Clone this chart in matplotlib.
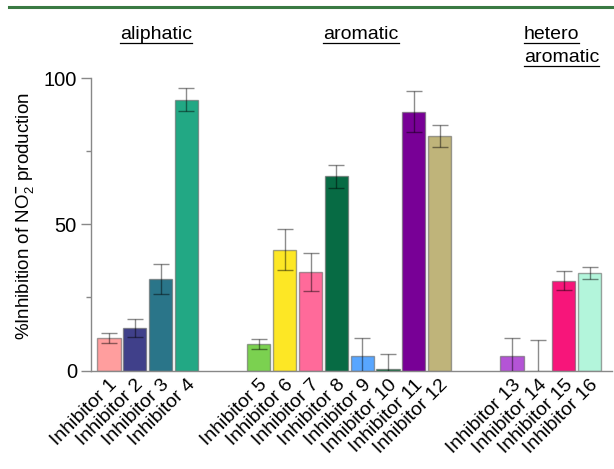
import numpy as np
import matplotlib
matplotlib.use("Agg")
import matplotlib.pyplot as plt
from matplotlib.lines import Line2D
from matplotlib.ticker import MultipleLocator

plt.rcParams['font.family'] = ['Liberation Sans', 'DejaVu Sans']
plt.rcParams['mathtext.fontset'] = 'custom'
plt.rcParams['mathtext.rm'] = 'Liberation Sans'
plt.rcParams['mathtext.it'] = 'Liberation Sans:italic'
plt.rcParams['mathtext.bf'] = 'Liberation Sans:bold'

# data
labels = ["Inhibitor %d" % i for i in range(1, 17)]
values = [11.0, 14.5, 31.3, 92.7,
          9.0, 41.4, 33.6, 66.5, 4.8, 0.4, 88.6, 80.3,
          5.0, 0.0, 30.8, 33.4]
errors = [1.7, 3.0, 5.0, 4.0,
          1.8, 7.0, 6.5, 4.0, 6.4, 5.2, 6.9, 3.8,
          6.2, 10.4, 3.3, 2.0]
colors = ["#ff9e9e", "#40408a", "#2a7589", "#22a884",
          "#7bd150", "#fde725", "#ff6a9a", "#076b44", "#58a6ff", "#0a6b3a",
          "#780096", "#bfb47a",
          "#b454d6", "#ffffff", "#f7157a", "#b3f5db"]
group_sizes = [4, 8, 4]
group_names = [["aliphatic"], ["aromatic"], ["hetero", "aromatic"]]

# x positions: groups separated by a wider gap
gap = 2.8
x = []
start = 0.0
for n in group_sizes:
    x.extend(start + np.arange(n))
    start = x[-1] + gap
x = np.array(x)

fig = plt.figure(figsize=(6.14, 4.69), dpi=100)
ax = fig.add_axes([0.148, 0.21, 0.848, 0.623])

ax.bar(x, values, width=0.9, color=colors, edgecolor=(0.4, 0.4, 0.4, 0.6),
       linewidth=1.0, zorder=2)
ax.errorbar(x, values, yerr=errors, fmt='none', ecolor=(0, 0, 0, 0.45),
            elinewidth=1.0, capsize=5.5, capthick=1.0, zorder=3)

ax.set_xlim(x[0] - 0.7, x[-1] + 0.85)
ax.set_ylim(0, 100)
ax.yaxis.set_major_locator(MultipleLocator(50))
ax.yaxis.set_minor_locator(MultipleLocator(25))

for s in ['top', 'right']:
    ax.spines[s].set_visible(False)
for s in ['left', 'bottom']:
    ax.spines[s].set_color('#888888')
    ax.spines[s].set_linewidth(1.0)

ax.tick_params(axis='y', which='major', length=7, width=1, color='#888888',
               labelsize=14.5, pad=3)
ax.tick_params(axis='y', which='minor', length=3.5, width=1, color='#888888')
ax.tick_params(axis='x', length=0, labelsize=14, pad=4)

ax.set_xticks(x)
ax.set_xticklabels(labels, rotation=45, ha='right', rotation_mode='anchor')
ax.set_ylabel(r"%Inhibition of NO$_2^{\mathbf{-}}$ production", fontsize=13.5)
ax.yaxis.set_label_coords(-0.105, 0.53)

# group titles with underline
title_pos = [(0.254, 'center'), (0.588, 'center'), (0.853, 'left')]
line_y = [0.917, 0.867]
texts = []
for (tx, ha), names in zip(title_pos, group_names):
    for k, name in enumerate(names):
        t = fig.text(tx, line_y[k], name, fontsize=14, ha=ha, va='baseline')
        texts.append((t, line_y[k]))

fig.canvas.draw()
r = fig.canvas.get_renderer()
for t, yb in texts:
    bb = t.get_window_extent(renderer=r)
    uy = yb - 4.0 / (fig.get_figheight() * fig.dpi)
    x0 = bb.x0 / (fig.get_figwidth() * fig.dpi)
    x1 = bb.x1 / (fig.get_figwidth() * fig.dpi)
    fig.add_artist(Line2D([x0, x1], [uy, uy], color='black', lw=0.9,
                          transform=fig.transFigure))

# green rule at the top
fig.add_artist(Line2D([0.015, 1.0], [0.985, 0.985], color='#3a7a43', lw=2.2,
                      transform=fig.transFigure))

fig.savefig("out.png", dpi=100)
